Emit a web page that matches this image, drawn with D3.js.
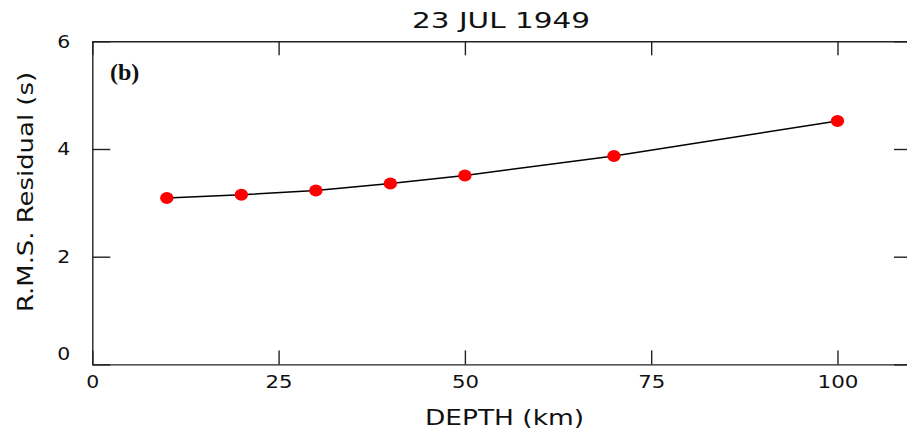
<!DOCTYPE html>
<html>
<head>
<meta charset="utf-8">
<script src="https://cdn.jsdelivr.net/npm/d3@7"></script>
<style>
  html, body { margin: 0; padding: 0; background: #fff; }
  svg { display: block; }
  text { font-family: "DejaVu Sans", sans-serif; fill: #111; }
</style>
</head>
<body>
<div id="chart"></div>
<script>
// depth (km) vs rms residual (s)
var depths = [10, 20, 30, 40, 50, 70, 100];
var residuals = [3.09, 3.15, 3.23, 3.36, 3.51, 3.87, 4.52];
var xTicks = [0, 25, 50, 75, 100];
var yTicks = [0, 2, 4, 6];
var title = "23 JUL 1949";
var xTitle = "DEPTH (km)";
var yTitle = "R.M.S. Residual (s)";
var panel = "(b)";

(function() {
  var w = 907, h = 435
      , mLeft = 92.3, mRight = 912, mTop = 41.3, mBottom = 364.4;

  var svg = d3.select("#chart").append("svg")
      .attr("width", w)
      .attr("height", h);

  var x = d3.scaleLinear().domain([0, 110]).range([mLeft, mRight]);
  var y = d3.scaleLinear().domain([0, 6]).range([mBottom, mTop]);
  var fmt = d3.format("d");

  function stretch(sel) {
    sel.attr("textLength", function(d) { return fmt(d).length * 14 - 1; })
       .attr("lengthAdjust", "spacingAndGlyphs");
  }

  // bottom axis
  var gx = svg.append("g")
      .attr("transform", "translate(0," + mBottom + ")")
      .call(d3.axisBottom(x).tickValues(xTicks).tickFormat(fmt).tickSizeInner(-14).tickSizeOuter(0).tickPadding(10.8));
  gx.selectAll("text").style("font-size", "18px").call(stretch);

  // top axis
  svg.append("g")
      .attr("transform", "translate(0," + mTop + ")")
      .call(d3.axisTop(x).tickValues(xTicks).tickSizeInner(-14).tickSizeOuter(0).tickFormat(""));

  // left axis
  var gy = svg.append("g")
      .attr("transform", "translate(" + mLeft + ",0)")
      .call(d3.axisLeft(y).tickValues(yTicks).tickFormat(fmt).tickSizeInner(-18).tickSizeOuter(0).tickPadding(22));
  gy.selectAll("text").style("font-size", "18px").call(stretch);
  gy.selectAll(".tick").filter(function(d) { return d === 0; })
      .select("text").attr("dy", "-0.28em");

  // right axis
  svg.append("g")
      .attr("transform", "translate(" + mRight + ",0)")
      .call(d3.axisRight(y).tickValues(yTicks).tickSizeInner(-18).tickSizeOuter(0).tickFormat(""));

  svg.selectAll(".domain, .tick line")
      .attr("stroke", "#222")
      .attr("stroke-width", 1.4);

  // curve
  var pts = depths.map(function(d, i) { return [d, residuals[i]]; });
  svg.append("path")
      .datum(pts)
      .attr("fill", "none")
      .attr("stroke", "#000")
      .attr("stroke-width", 1.5)
      .attr("d", d3.line().x(function(d) { return x(d[0]); }).y(function(d) { return y(d[1]); }));

  svg.append("g").selectAll("ellipse")
      .data(pts)
      .enter()
      .append("ellipse")
      .attr("cx", function(d) { return x(d[0]); })
      .attr("cy", function(d) { return y(d[1]); })
      .attr("rx", 6.7)
      .attr("ry", 6)
      .attr("fill", "#ff0000");

  // titles
  svg.append("text")
      .attr("x", 501).attr("y", 28.3)
      .attr("text-anchor", "middle")
      .attr("textLength", 178).attr("lengthAdjust", "spacingAndGlyphs")
      .style("font-size", "20.5px")
      .text(title);

  svg.append("text")
      .attr("x", 504.5).attr("y", 425)
      .attr("text-anchor", "middle")
      .attr("textLength", 159).attr("lengthAdjust", "spacingAndGlyphs")
      .style("font-size", "21px")
      .text(xTitle);

  svg.append("text")
      .attr("transform", "translate(33,192) rotate(-90)")
      .attr("text-anchor", "middle")
      .attr("textLength", 240).attr("lengthAdjust", "spacingAndGlyphs")
      .style("font-size", "21px")
      .text(yTitle);

  svg.append("text")
      .attr("x", 110).attr("y", 80)
      .style("font-family", "'Liberation Serif', serif")
      .style("font-weight", "bold")
      .style("font-size", "24px")
      .text(panel);
}());
</script>
</body>
</html>
